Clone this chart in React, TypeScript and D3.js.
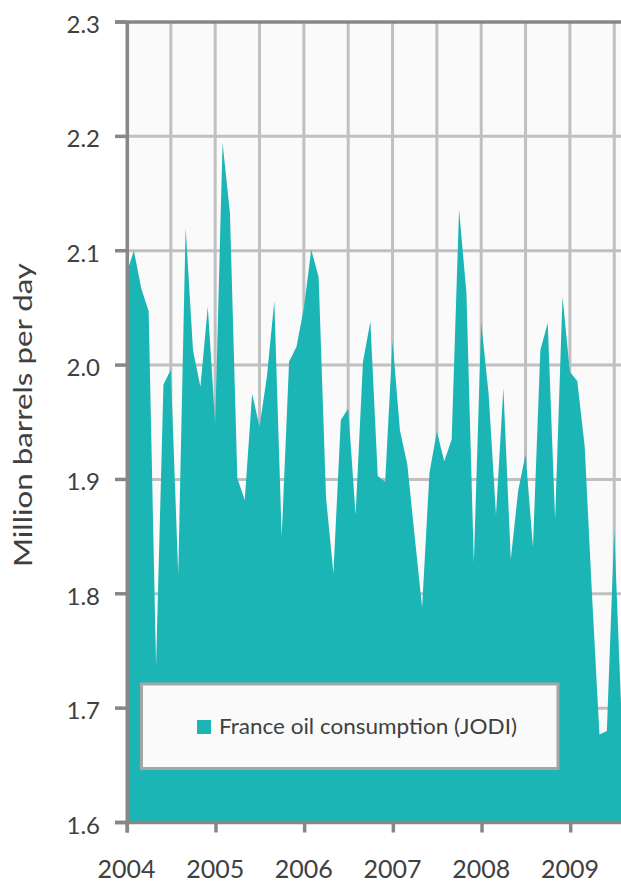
import React from "react";
import * as d3 from "d3";

const values: number[] = [
  2.08, 2.10, 2.067, 2.047, 1.737, 1.983, 1.996, 1.817, 2.12, 2.013, 1.981, 2.051,
  1.949, 2.194, 2.133, 1.901, 1.882, 1.975, 1.946, 1.99, 2.056, 1.85, 2.003, 2.016,
  2.05, 2.101, 2.077, 1.884, 1.818, 1.952, 1.962, 1.869, 2.003, 2.038, 1.903, 1.898,
  2.021, 1.943, 1.913, 1.85, 1.788, 1.906, 1.942, 1.916, 1.935, 2.136, 2.063, 1.827,
  2.037, 1.975, 1.869, 1.98, 1.83, 1.89, 1.922, 1.841, 2.013, 2.037, 1.865, 2.06,
  1.994, 1.986, 1.929, 1.798, 1.677, 1.68, 1.856, 1.69,
];
const yearLabels: string[] = ["2004", "2005", "2006", "2007", "2008", "2009"];
const yTicks: number[] = [1.6, 1.7, 1.8, 1.9, 2.0, 2.1, 2.2, 2.3];
const seriesName = "France oil consumption (JODI)";
const yTitle = "Million barrels per day";

const W = 621;
const H = 882;
const left = 126.5;
const top = 22;
const bottom = 822.5;
const step = 7.39;

export default function App() {
  const n = values.length;
  const x = d3.scaleLinear().domain([0, n - 1]).range([left, left + (n - 1) * step]);
  const y = d3.scaleLinear().domain([1.6, 2.3]).range([bottom, top]);
  const right = W + 10;

  const area = d3
    .area<number>()
    .x((_, i) => x(i))
    .y0(y(1.6))
    .y1((d) => y(d))(values);

  const gridIdx = d3.range(6, n, 6);
  const font = "Lato, 'Open Sans', sans-serif";
  const axisColor = "#878787";
  const textColor = "#404040";

  return (
    <svg
      width={W}
      height={H}
      style={{ position: "absolute", left: 0, top: 0, background: "#fff" }}
    >
      <rect x={left} y={top} width={right - left} height={bottom - top} fill="#fafafa" />
      {yTicks.slice(1, -1).map((t) => (
        <line key={"h" + t} x1={left} x2={right} y1={y(t)} y2={y(t)} stroke="#c0c0c0" strokeWidth={3} />
      ))}
      {gridIdx.map((i) => (
        <line key={"v" + i} x1={x(i)} x2={x(i)} y1={top} y2={bottom} stroke="#c0c0c0" strokeWidth={3} />
      ))}
      <path d={area ?? ""} fill="#1bb5b5" />
      {/* axes */}
      <line x1={115} x2={right} y1={top} y2={top} stroke={axisColor} strokeWidth={3.5} />
      <line x1={115} x2={right} y1={bottom} y2={bottom} stroke={axisColor} strokeWidth={3.5} />
      <line x1={left + 0.8} x2={left + 0.8} y1={top} y2={bottom + 10} stroke={axisColor} strokeWidth={3.5} />
      {yTicks.map((t) => (
        <g key={"yt" + t}>
          <line x1={115} x2={left} y1={y(t)} y2={y(t)} stroke={axisColor} strokeWidth={3.5} />
          <text
            x={100}
            y={y(t) + 11}
            textAnchor="end"
            fontFamily={font}
            fontSize={24}
            fill={textColor}
          >
            {t.toFixed(1)}
          </text>
        </g>
      ))}
      {yearLabels.map((lab, k) => (
        <g key={"xt" + lab}>
          <line x1={x(k * 12) + 0.8} x2={x(k * 12) + 0.8} y1={bottom} y2={bottom + 10} stroke={axisColor} strokeWidth={3.5} />
          <text
            x={x(k * 12)}
            y={878}
            textAnchor="middle"
            fontFamily={font}
            fontSize={25}
            fill={textColor}
          >
            {lab}
          </text>
        </g>
      ))}
      <text
        transform={`translate(32,415) rotate(-90)`}
        textAnchor="middle"
        fontFamily={font}
        fontSize={25}
        textLength={304}
        lengthAdjust="spacingAndGlyphs"
        fill={textColor}
      >
        {yTitle}
      </text>
      {/* legend */}
      <rect x={141.5} y={684} width={416.5} height={84.5} fill="#fafafa" stroke="#a6a6a6" strokeWidth={3} />
      <rect x={197} y={720} width={14} height={14} fill="#1bb5b5" />
      <text
        x={219}
        y={734}
        fontFamily={font}
        fontSize={20.5}
        textLength={298}
        lengthAdjust="spacingAndGlyphs"
        fill={textColor}
      >
        {seriesName}
      </text>
    </svg>
  );
}
